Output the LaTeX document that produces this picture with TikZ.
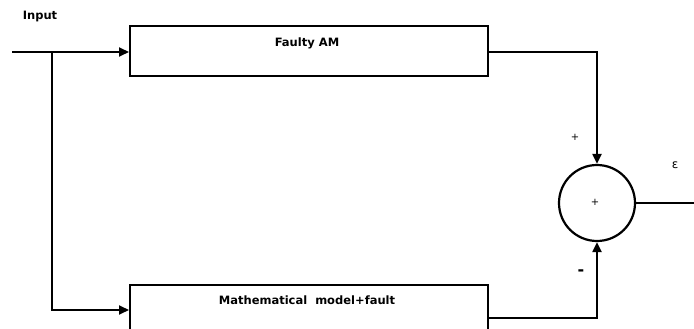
\documentclass[tikz,border=0pt]{standalone}
\usepackage{fontspec}
\setmainfont{DejaVu Sans}
\usetikzlibrary{arrows.meta}
\begin{document}
\begin{tikzpicture}[x=1pt,y=-1pt,
  line width=2pt,
  arr/.style={-{Triangle[length=10pt,width=9pt]}},
  blk/.style={draw,line width=2.2pt,minimum width=358pt,anchor=north west,inner sep=0pt},
  lbl/.style={font=\bfseries\fontsize{11.5}{13}\selectfont,inner sep=0pt}]
\clip (0,0) rectangle (694,329);
\useasboundingbox (0,0) rectangle (694,329);
\node[blk,minimum height=50pt] (am) at (129,25) {};
\node[blk,minimum height=60pt] (mm) at (129,284) {};
\node[lbl] (amt) at (307,43) {Faulty AM};
\node[lbl] (mmt) at (307,300) {Mathematical\ \ model+fault};
\node[draw,circle,line width=2.2pt,minimum size=76pt,inner sep=0pt] (sum) at (597,203) {};
\node[lbl] (in) at (40,17) {Input};
\node[lbl,font=\fontsize{10}{10}\selectfont] (p1) at (575,137) {+};
\node[lbl,font=\fontsize{10}{10}\selectfont] (p2) at (595,202) {+};
\node[lbl,font=\bfseries\fontsize{16}{16}\selectfont] (m1) at (581,273) {-};
\node[lbl,font=\fontsize{12}{12}\selectfont] (eps) at (675,165) {ε};
\coordinate (start) at (12,52);
\coordinate (br) at (52,52);
\coordinate (out) at (694,203);
\draw[arr] (start) -- (am.west|-start);
\draw[arr] (br) |- (mm.west|-0,310);
\draw[arr] (am.east|-0,52) -| (sum.north);
\draw[arr] (mm.east|-0,318) -| (sum.south);
\draw (sum.east) -- (out);
\end{tikzpicture}
\end{document}
